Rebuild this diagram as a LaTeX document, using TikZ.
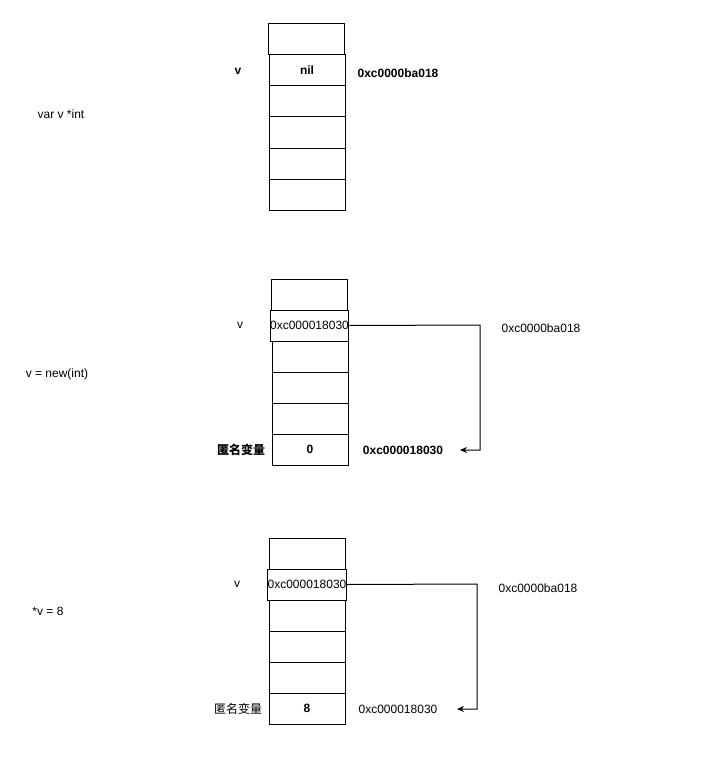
\documentclass[tikz,border=0pt]{standalone}
\usepackage{fontspec}
\setmainfont{Liberation Sans}
\newfontfamily\cjk{Noto Sans CJK SC}
\usetikzlibrary{arrows.meta}
\begin{document}
\begin{tikzpicture}[x=1pt,y=-1pt,
  every node/.style={font=\fontsize{12}{14}\selectfont, inner sep=0pt},
  cell/.style={draw, line width=1pt, minimum width=76pt, minimum height=31pt, inner sep=0pt},
  lbl/.style={font=\fontsize{12}{14}\selectfont},
  blbl/.style={font=\fontsize{12}{14}\selectfont\bfseries},
  conn/.style={line width=1pt, -{Stealth[length=7pt,width=6pt]}}
]
\useasboundingbox (0,0) rectangle (717,757);

% ---------- stack 1 ----------
\node[cell] (a0) at (306,39.5) {};
\node[cell, font=\fontsize{12}{14}\selectfont\bfseries] (a1) at (307,70.5) {nil};
\node[cell] (a2) at (307,101.5) {};
\node[cell] (a3) at (307,132.5) {};
\node[cell] (a4) at (307,163.5) {};
\node[cell] (a5) at (307,194.5) {};
\node[blbl] (a1n) at (238,71) {v};
\node[blbl] (a1addr) at (398,73) {0xc0000ba018};
\node[lbl] (t1) at (61,114) {var v *int};

% ---------- stack 2 ----------
\node[cell] (b0) at (309.5,294.5) {};
\node[cell] (b1) at (309.5,325.5) {0xc000018030};
\node[cell] (b2) at (310,356.5) {};
\node[cell] (b3) at (310,387.5) {};
\node[cell] (b4) at (310,418.5) {};
\node[cell, font=\fontsize{12}{14}\selectfont\bfseries] (b5) at (310,449.5) {0};
\node[lbl] (b1n) at (240,325) {v};
\node[lbl] (b1addr) at (541,328) {0xc0000ba018};
\node[blbl] (b5n) at (241,450) {\cjk 匿名变量};
\node[blbl] (b5addr) at (403,450) {0xc000018030};
\node[lbl] (t2) at (57,374) {v = new(int)};
\coordinate (bc) at (480,325);
\coordinate (be) at (460,450);
\draw[conn] (b1.east) -- (bc) |- (be);

% ---------- stack 3 ----------
\node[cell] (c0) at (307,553.5) {};
\node[cell] (c1) at (307,584.5) {0xc000018030};
\node[cell] (c2) at (307,615.5) {};
\node[cell] (c3) at (307,646.5) {};
\node[cell] (c4) at (307,677.5) {};
\node[cell, font=\fontsize{12}{14}\selectfont\bfseries] (c5) at (307,708.5) {8};
\node[lbl] (c1n) at (237,584) {v};
\node[lbl] (c1addr) at (538,588) {0xc0000ba018};
\node[lbl] (c5n) at (238,709) {\cjk 匿名变量};
\node[lbl] (c5addr) at (398,709) {0xc000018030};
\node[lbl] (t3) at (48,611) {*v = 8};
\coordinate (cc) at (477,584);
\coordinate (ce) at (457,709);
\draw[conn] (c1.east) -- (cc) |- (ce);
\end{tikzpicture}
\end{document}
